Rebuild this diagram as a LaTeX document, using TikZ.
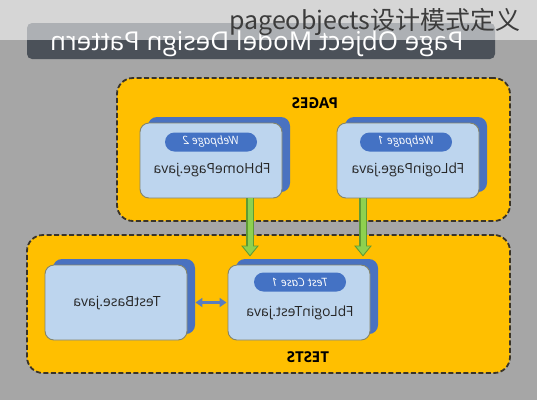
\documentclass[tikz,border=0pt]{standalone}
\usepackage{fontspec}
\setmainfont{Open Sans}
\newfontfamily\cjk{Noto Sans CJK SC}
\usepackage{graphicx}
\usetikzlibrary{arrows.meta,calc,shadows}
\definecolor{bg}{HTML}{A6A6A6}
\definecolor{titlebar}{HTML}{4B5159}
\definecolor{amber}{HTML}{FFBF00}
\definecolor{cardfill}{HTML}{BDD5EE}
\definecolor{cardline}{HTML}{85856A}
\definecolor{shadowblue}{HTML}{4A72C0}
\definecolor{pillblue}{HTML}{4472C4}
\definecolor{lgreen}{HTML}{8ED14F}
\definecolor{dgreen}{HTML}{5E9A35}
\definecolor{dashline}{HTML}{3A3428}
\definecolor{dblarrow}{HTML}{5A7DBE}
\definecolor{wmark}{HTML}{3C3C3C}
\newcommand{\mir}[1]{\scalebox{-1}[1]{#1}}
\begin{document}
\begin{tikzpicture}[x=1pt,y=-1pt,
  titlestyle/.style={fill=titlebar,rounded corners=5pt,minimum width=468pt,minimum height=36pt,inner sep=0pt},
  titletext/.style={text=white,font=\fontsize{26}{28}\selectfont,inner sep=0pt},
  container/.style={fill=amber,draw=dashline,line width=1.8pt,dash pattern=on 5pt off 2.5pt,rounded corners=16pt,inner sep=0pt},
  grouplabel/.style={font=\bfseries\fontsize{15}{16}\selectfont,text=black},
  card/.style={fill=cardfill,draw=cardline,line width=0.9pt,rounded corners=9pt,minimum width=142pt,minimum height=75pt,inner sep=0pt,
    general shadow={fill=shadowblue,shadow xshift=8pt,shadow yshift=6pt}},
  pill/.style={fill=pillblue,rounded corners=9.5pt,minimum width=92pt,minimum height=19pt,inner sep=0pt,text=white,font=\itshape\fontsize{11.5}{12}\selectfont},
  cardtext/.style={font=\fontsize{14}{16}\selectfont,text=black!85},
  garrowout/.style={draw=dgreen,line width=7.5pt,-{Triangle[width=17pt,length=11pt]},shorten >=0pt},
  garrowin/.style={draw=lgreen,line width=5pt,-{Triangle[width=13pt,length=8.5pt]},shorten >=1.6pt},
  darrow/.style={draw=dblarrow,line width=3pt,{Triangle[width=9pt,length=7pt]}-{Triangle[width=9pt,length=7pt]}}
]
\useasboundingbox (0,0) rectangle (537,400);
\fill[bg] (0,0) rectangle (537,400);
% title
\node[titlestyle] (title) at (261,41) {};
\node[titletext,anchor=base] (titletxt) at (257,50) {\mir{Page Object Model Design Pattern}};
% containers
\node[container,minimum width=393pt,minimum height=143pt] (pages) at (313.5,149.5) {};
\node[container,minimum width=483pt,minimum height=138pt] (tests) at (268.5,304) {};
\node[grouplabel] (pageslbl) at (315,103) {\mir{PAGES}};
\node[grouplabel] (testslbl) at (308,357) {\mir{TESTS}};
% cards
\node[card] (p2) at (211,160.5) {};
\node[card] (p1) at (408,160.5) {};
\node[card] (tb) at (116,302.5) {};
\node[card] (lt) at (299,302.5) {};
\node[pill] (p2pill) at (211,142) {\mir{Webpage 2}};
\node[pill] (p1pill) at (406,142) {\mir{Webpage 1}};
\node[pill] (ltpill) at (300,282) {\mir{Test Case 1}};
\node[cardtext] (p2txt) at (212,170) {\mir{FbHomePage.java}};
\node[cardtext] (p1txt) at (408,170) {\mir{FbLoginPage.java}};
\node[cardtext] (tbtxt) at (117,303) {\mir{TestBase.java}};
\node[cardtext] (lttxt) at (300,313) {\mir{FbLoginTest.java}};
% green arrows
\draw[garrowout] ($(p2.south)+(39,0)$) -- ($(lt.north)+(-49,-8)$);
\draw[garrowin] ($(p2.south)+(39,0)$) -- ($(lt.north)+(-49,-8)$);
\draw[garrowout] ($(p1.south)+(-45,0)$) -- ($(lt.north)+(64,-8)$);
\draw[garrowin] ($(p1.south)+(-45,0)$) -- ($(lt.north)+(64,-8)$);
% double arrow
\draw[darrow,shorten <=8pt,shorten >=1pt] (tb.east) -- (lt.west);
% overlay band and watermark
\fill[white,opacity=0.55] (0,0) rectangle (537,40);
\node[anchor=base west,inner sep=0pt,text=wmark,font=\cjk\fontsize{25}{27}\selectfont] (wm) at (229,29) {pageobjects设计模式定义};
\end{tikzpicture}
\end{document}
